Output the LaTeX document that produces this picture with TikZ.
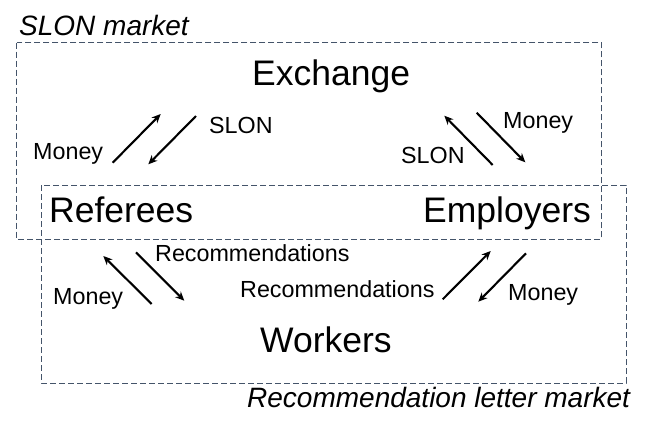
\documentclass[tikz,border=0pt]{standalone}
\usepackage{fontspec}
\setmainfont{Liberation Sans}
\usetikzlibrary{arrows.meta}
\definecolor{boxc}{RGB}{68,84,106}
\newcommand\fbig{\fontsize{35.5}{40}\selectfont}
\newcommand\fsmall{\fontsize{23.3}{26}\selectfont}
\newcommand\fital{\fontsize{28}{32}\selectfont\itshape}
\begin{document}
\begin{tikzpicture}[x=1pt,y=-1pt,
  big/.style={inner sep=0,anchor=base west,font=\fbig},
  lab/.style={inner sep=0,anchor=base west,font=\fsmall},
  ital/.style={inner sep=0,anchor=base west,font=\fital},
  market/.style={draw=boxc,dash pattern=on 6pt off 3pt,line width=1pt},
  flow/.style={-{Stealth[length=9pt,width=8pt]},line width=2.1pt}]
\useasboundingbox (0,0) rectangle (648,434);
% market boxes
\draw[market] (16.7,42.7) rectangle (601.7,239);
\draw[market] (41,185) rectangle (626,383);
% titles
\node[ital] (slonm) at (19,35) {SLON market};
\node[ital] (recm) at (247,407) {Recommendation letter market};
% actors
\node[big] (exch) at (252,85) {Exchange};
\node[big] (ref) at (49,222) {Referees};
\node[big] (emp) at (423,222) {Employers};
\node[big] (work) at (260,352) {Workers};
% labels
\node[lab] (m1) at (33,159) {Money};
\node[lab] (s1) at (209,133) {SLON};
\node[lab] (m2) at (503,128) {Money};
\node[lab] (s2) at (401,163) {SLON};
\node[lab] (r1) at (155,261) {Recommendations};
\node[lab] (m3) at (53,304) {Money};
\node[lab] (r2) at (240,297) {Recommendations};
\node[lab] (m4) at (508,300) {Money};
% arrow end points
\coordinate (a1s) at (112.7,162.7); \coordinate (a1e) at (160.7,114);
\coordinate (a2s) at (196,116);     \coordinate (a2e) at (148.3,164.3);
\coordinate (a3s) at (492.7,165);   \coordinate (a3e) at (444.3,115.7);
\coordinate (a4s) at (476.7,112.7); \coordinate (a4e) at (525.3,162.3);
\coordinate (a5s) at (151.7,304);   \coordinate (a5e) at (103.3,256);
\coordinate (a6s) at (136,252.3);   \coordinate (a6e) at (184.3,300.7);
\coordinate (a7s) at (442.7,299.3); \coordinate (a7e) at (490.7,251);
\coordinate (a8s) at (526,253.3);   \coordinate (a8e) at (478.3,301.7);
\draw[flow] (a1s) -- (a1e);
\draw[flow] (a2s) -- (a2e);
\draw[flow] (a3s) -- (a3e);
\draw[flow] (a4s) -- (a4e);
\draw[flow] (a5s) -- (a5e);
\draw[flow] (a6s) -- (a6e);
\draw[flow] (a7s) -- (a7e);
\draw[flow] (a8s) -- (a8e);
\end{tikzpicture}
\end{document}
